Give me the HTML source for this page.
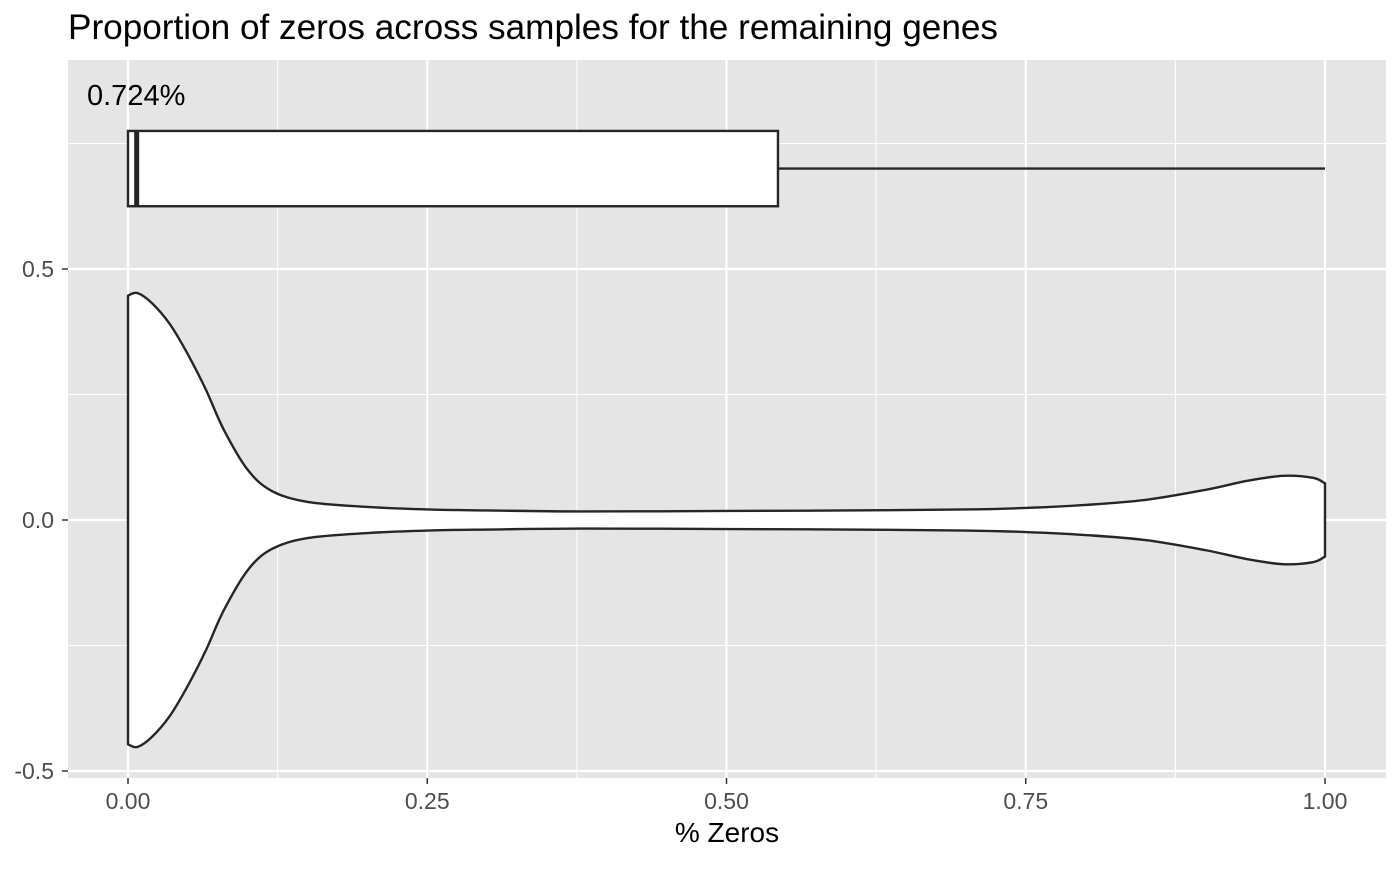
<!DOCTYPE html>
<html><head><meta charset="utf-8"><style>
html,body{margin:0;padding:0;background:#fff;}
svg text{font-family:"Liberation Sans",Arial,sans-serif;}
</style></head><body>
<svg id="chart" width="1400" height="865" xmlns="http://www.w3.org/2000/svg">
<rect x="0" y="0" width="1400" height="865" fill="#fff"/>
<text x="68" y="39" font-size="35" fill="#000" textLength="930" lengthAdjust="spacingAndGlyphs">Proportion of zeros across samples for the remaining genes</text>
<rect x="68" y="60" width="1318" height="718" fill="#e5e5e5"/>
<g id="grid"></g>
<g id="marks"></g>
<g id="axes"></g>
<text x="727" y="842" font-size="28" text-anchor="middle" fill="#000">% Zeros</text>
</svg>
<script>
const xTicks = [0, 0.25, 0.5, 0.75, 1.0];
const xTickLabels = ["0.00", "0.25", "0.50", "0.75", "1.00"];
const yTicks = [-0.5, 0, 0.5];
const yTickLabels = ["-0.5", "0.0", "0.5"];
const violinX = [0,0.008,0.02,0.035,0.05,0.065,0.08,0.1,0.12,0.15,0.2,0.25,0.3,0.38,0.5,0.6,0.7,0.75,0.8,0.85,0.9,0.935,0.965,0.99,1.0];
const violinW = [0.447,0.452,0.432,0.39,0.33,0.26,0.18,0.10,0.058,0.036,0.026,0.021,0.019,0.017,0.018,0.019,0.021,0.024,0.03,0.04,0.06,0.078,0.088,0.084,0.073];
const boxStats = [0, 0, 0.00724, 0.543, 1.0];
const boxCenter = [0.7];
const boxHalf = [0.075];
const medianLabel = ["0.724%"];

const NS = "http://www.w3.org/2000/svg";
const PT = 60, PB = 778;
const sx = v => 128 + v * 1197;
const sy = v => 520 - v * 502;
function mk(tag, attrs, parent) {
  const e = document.createElementNS(NS, tag);
  for (const k in attrs) e.setAttribute(k, attrs[k]);
  parent.appendChild(e);
  return e;
}
const grid = document.getElementById('grid');
const marks = document.getElementById('marks');
const axes = document.getElementById('axes');
for (let i = 0; i < xTicks.length - 1; i++) {
  const v = (xTicks[i] + xTicks[i+1]) / 2;
  const l = mk('line', {x1: sx(v), x2: sx(v), y1: PT, y2: PB, stroke: '#fff', 'stroke-width': 1}, grid);
  
  
}
[-0.25, 0.25, 0.75].forEach(v => {
  const l = mk('line', {x1: 68, x2: 1386, y1: sy(v), y2: sy(v), stroke: '#fff', 'stroke-width': 1}, grid);
  
  
});
xTicks.forEach((v, i) => {
  const l = mk('line', {x1: sx(v), x2: sx(v), y1: PT, y2: PB, stroke: '#fff', 'stroke-width': 2.2}, grid);
  
  
  const t = mk('line', {x1: sx(v), x2: sx(v), y1: PB, y2: PB + 6, stroke: '#333', 'stroke-width': 1.5}, axes);
  
  
  const tx = mk('text', {x: sx(v), y: 809, 'font-size': 23, 'text-anchor': 'middle', fill: '#4d4d4d'}, axes);
  tx.textContent = xTickLabels[i];
  
  
});
yTicks.forEach((v, i) => {
  const l = mk('line', {x1: 68, x2: 1386, y1: sy(v), y2: sy(v), stroke: '#fff', 'stroke-width': 2.2}, grid);
  
  
  const t = mk('line', {x1: 62, x2: 68, y1: sy(v), y2: sy(v), stroke: '#333', 'stroke-width': 1.5}, axes);
  
  
  const tx = mk('text', {x: 54, y: sy(v) + 8, 'font-size': 23, 'text-anchor': 'end', fill: '#4d4d4d'}, axes);
  tx.textContent = yTickLabels[i];
  
  
});
function smooth(pts) {
  let d = `M${pts[0][0]},${pts[0][1]}`;
  for (let i = 0; i < pts.length - 1; i++) {
    const p0 = pts[Math.max(0, i-1)], p1 = pts[i], p2 = pts[i+1], p3 = pts[Math.min(pts.length-1, i+2)];
    const c1 = [p1[0] + (p2[0]-p0[0])/6, p1[1] + (p2[1]-p0[1])/6];
    const c2 = [p2[0] - (p3[0]-p1[0])/6, p2[1] - (p3[1]-p1[1])/6];
    d += ` C${c1[0]},${c1[1]} ${c2[0]},${c2[1]} ${p2[0]},${p2[1]}`;
  }
  return d;
}
const upperPts = violinX.map((x, i) => [sx(x), sy(violinW[i])]);
const lowerPts = violinX.map((x, i) => [sx(x), sy(-violinW[i])]).reverse();
const vd = smooth(upperPts) + ` L${lowerPts[0][0]},${lowerPts[0][1]}` + smooth(lowerPts).replace(/^M[^C]*/, ' ') + ' Z';
const vp = mk('path', {d: vd, fill: '#fff', stroke: '#262626', 'stroke-width': 2.4, 'stroke-linejoin': 'round'}, marks);


const cy = sy(boxCenter[0]), by1 = sy(boxCenter[0] + boxHalf[0]), by2 = sy(boxCenter[0] - boxHalf[0]);
const wh = mk('line', {x1: sx(boxStats[3]), x2: sx(boxStats[4]), y1: cy, y2: cy, stroke: '#262626', 'stroke-width': 2.4}, marks);


const br = mk('rect', {x: sx(boxStats[1]), y: by1, width: sx(boxStats[3]) - sx(boxStats[1]), height: by2 - by1, fill: '#fff', stroke: '#262626', 'stroke-width': 2.4}, marks);


const md = mk('line', {x1: sx(boxStats[2]), x2: sx(boxStats[2]), y1: by1, y2: by2, stroke: '#262626', 'stroke-width': 5}, marks);


const lab = mk('text', {x: 87, y: 105, 'font-size': 29, fill: '#000'}, marks);
lab.textContent = medianLabel[0];


</script>
</body></html>
